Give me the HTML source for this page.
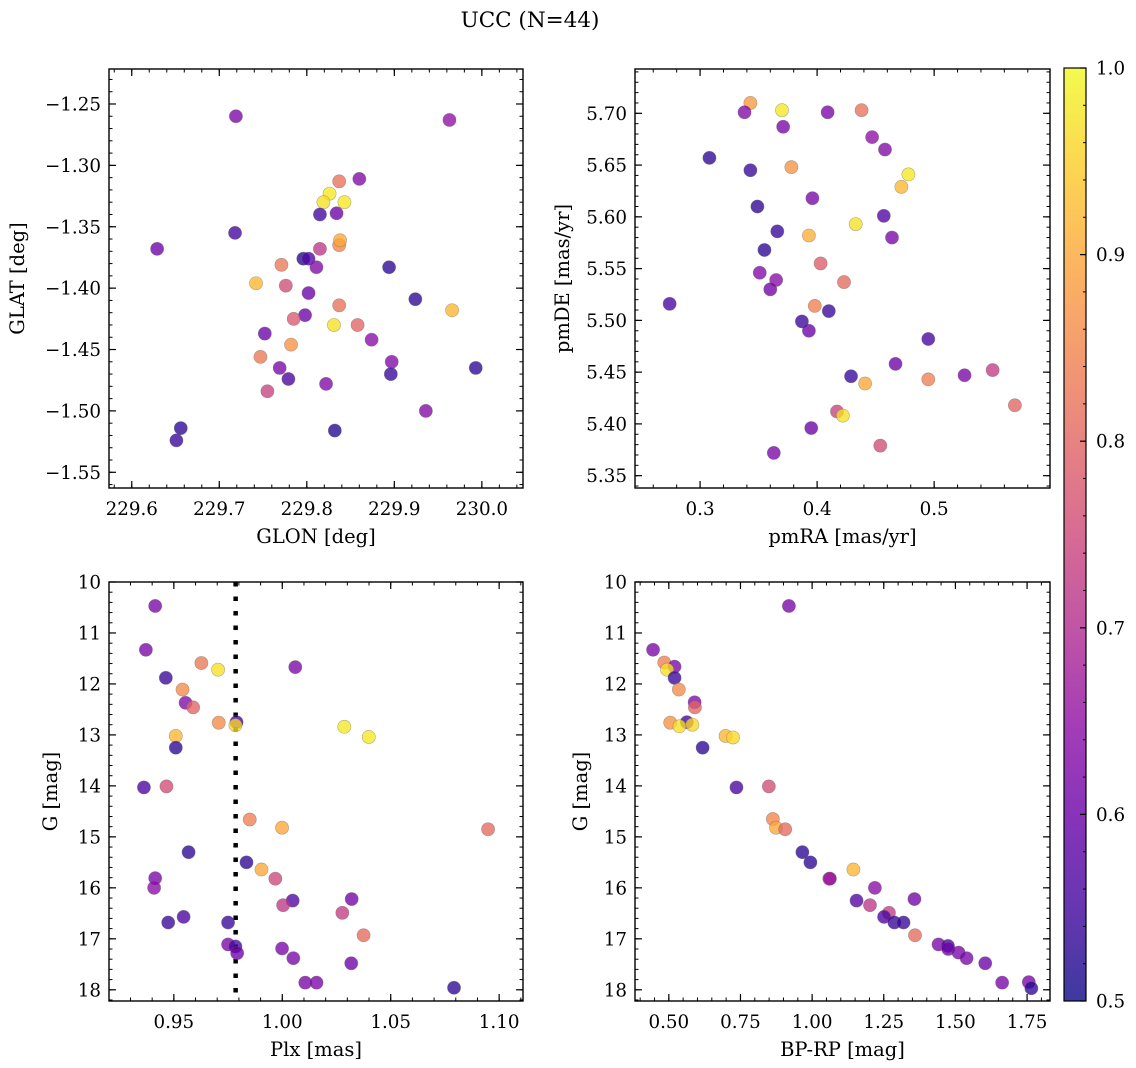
<!DOCTYPE html>
<html><head><meta charset="utf-8">
<style>
html,body{margin:0;padding:0;background:#fff;}
svg{display:block;font-family:"DejaVu Serif","Liberation Serif",serif;}
</style></head>
<body>
<svg id="fig" width="1136" height="1068" viewBox="0 0 1136 1068" xmlns="http://www.w3.org/2000/svg">
<defs>
<linearGradient id="cbgrad" x1="0" y1="1" x2="0" y2="0">
<stop offset="0" stop-color="#0d0887"/><stop offset="0.1" stop-color="#41049d"/><stop offset="0.2" stop-color="#6a00a8"/><stop offset="0.3" stop-color="#8f0da4"/><stop offset="0.4" stop-color="#b12a90"/><stop offset="0.5" stop-color="#cc4778"/><stop offset="0.6" stop-color="#e16462"/><stop offset="0.7" stop-color="#f2844b"/><stop offset="0.8" stop-color="#fca636"/><stop offset="0.9" stop-color="#fcce25"/><stop offset="1" stop-color="#f0f921"/>
</linearGradient>
</defs>
<text x="530" y="27" font-size="21.5" text-anchor="middle">UCC (N=44)</text>
</svg>
<script>
// ---- data: top-left (GLON / GLAT) ----
const glon = [229.719,229.963,229.837,229.860,229.826,229.819,229.843,229.815,229.834,229.718,229.629,229.837,229.838,229.815,229.796,229.802,229.811,229.771,229.894,229.742,229.776,229.802,229.924,229.966,229.837,229.798,229.785,229.831,229.858,229.752,229.874,229.782,229.747,229.897,229.769,229.896,229.993,229.779,229.822,229.755,229.936,229.656,229.651,229.832];
const glat = [-1.260,-1.263,-1.313,-1.311,-1.323,-1.330,-1.330,-1.340,-1.339,-1.355,-1.368,-1.365,-1.361,-1.368,-1.376,-1.376,-1.383,-1.381,-1.383,-1.396,-1.398,-1.404,-1.409,-1.418,-1.414,-1.422,-1.425,-1.430,-1.430,-1.437,-1.442,-1.446,-1.456,-1.460,-1.465,-1.470,-1.465,-1.474,-1.478,-1.484,-1.500,-1.514,-1.524,-1.516];
const probA = [0.62,0.65,0.82,0.63,0.98,0.97,0.98,0.55,0.60,0.55,0.60,0.85,0.90,0.72,0.52,0.57,0.63,0.83,0.53,0.92,0.76,0.60,0.53,0.92,0.82,0.60,0.78,0.97,0.80,0.60,0.64,0.87,0.83,0.63,0.62,0.54,0.53,0.56,0.63,0.74,0.63,0.53,0.54,0.52];
// ---- data: top-right (pmRA / pmDE) ----
const pmra = [0.343,0.338,0.370,0.371,0.409,0.438,0.447,0.458,0.308,0.343,0.378,0.478,0.472,0.396,0.349,0.457,0.433,0.366,0.393,0.464,0.355,0.403,0.351,0.365,0.360,0.423,0.274,0.398,0.410,0.387,0.393,0.495,0.467,0.429,0.441,0.495,0.526,0.550,0.569,0.417,0.422,0.395,0.454,0.363];
const pmde = [5.710,5.701,5.703,5.687,5.701,5.703,5.677,5.665,5.657,5.645,5.648,5.641,5.629,5.618,5.610,5.601,5.593,5.586,5.582,5.580,5.568,5.555,5.546,5.539,5.530,5.537,5.516,5.514,5.509,5.499,5.490,5.482,5.458,5.446,5.439,5.443,5.447,5.452,5.418,5.412,5.408,5.396,5.379,5.372];
const probB = [0.88,0.63,0.98,0.62,0.62,0.82,0.65,0.63,0.53,0.54,0.87,0.98,0.92,0.62,0.53,0.57,0.97,0.54,0.91,0.62,0.53,0.79,0.63,0.64,0.61,0.81,0.56,0.84,0.54,0.54,0.60,0.56,0.60,0.54,0.90,0.84,0.62,0.73,0.80,0.74,0.97,0.60,0.76,0.62];
// ---- data: bottom-left (Plx / G) ----
const plx = [0.9414,0.9371,0.9627,0.9704,1.0060,0.9463,0.9540,0.9554,0.9589,0.9707,0.9789,0.9784,1.0286,1.0399,0.9509,0.9509,0.9362,0.9466,0.9850,0.9999,1.0949,0.9568,0.9835,0.9904,0.9968,0.9414,0.9409,1.0048,1.0320,1.0004,1.0277,0.9545,0.9474,0.9750,1.0375,0.9750,0.9784,0.9792,0.9999,1.0051,1.0318,1.0106,1.0158,1.0792];
const gmagC = [10.47,11.33,11.59,11.72,11.67,11.88,12.11,12.37,12.46,12.76,12.75,12.81,12.84,13.04,13.02,13.25,14.03,14.01,14.66,14.82,14.85,15.30,15.50,15.64,15.82,15.81,16.00,16.25,16.22,16.34,16.49,16.57,16.68,16.68,16.93,17.11,17.15,17.28,17.19,17.38,17.48,17.86,17.86,17.96];
const probC = [0.62,0.62,0.83,0.97,0.62,0.54,0.86,0.63,0.80,0.86,0.55,0.96,0.98,0.98,0.92,0.53,0.56,0.76,0.84,0.90,0.81,0.53,0.53,0.90,0.75,0.62,0.64,0.57,0.61,0.72,0.73,0.56,0.54,0.54,0.81,0.62,0.56,0.60,0.62,0.62,0.60,0.62,0.62,0.53];
const plxLine = [0.9785];
// ---- data: bottom-right (BP-RP / G) ----
const bprp = [0.919,0.445,0.484,0.520,0.494,0.520,0.535,0.590,0.591,0.505,0.563,0.537,0.582,0.698,0.724,0.618,0.736,0.849,0.863,0.874,0.906,0.966,0.994,1.144,1.060,1.062,1.219,1.155,1.357,1.202,1.268,1.251,1.287,1.319,1.359,1.441,1.474,1.475,1.511,1.539,1.604,1.663,1.756,1.765];
const gmagD = [10.47,11.33,11.58,11.66,11.72,11.88,12.11,12.36,12.46,12.76,12.75,12.83,12.80,13.02,13.05,13.25,14.03,14.01,14.65,14.82,14.85,15.30,15.50,15.64,15.82,15.82,16.00,16.25,16.22,16.34,16.49,16.57,16.68,16.68,16.93,17.11,17.14,17.20,17.27,17.38,17.48,17.86,17.85,17.97];
const probD = [0.62,0.62,0.84,0.62,0.97,0.54,0.86,0.63,0.80,0.87,0.55,0.97,0.96,0.92,0.96,0.53,0.56,0.76,0.85,0.90,0.81,0.53,0.53,0.92,0.75,0.65,0.64,0.57,0.61,0.72,0.73,0.56,0.54,0.54,0.81,0.62,0.56,0.60,0.62,0.62,0.60,0.62,0.62,0.53];
// ---- tick labels ----
const ticksGlon = [229.6,229.7,229.8,229.9,230.0];
const ticksGlat = [-1.25,-1.30,-1.35,-1.40,-1.45,-1.50,-1.55];
const ticksPmra = [0.3,0.4,0.5];
const ticksPmde = [5.70,5.65,5.60,5.55,5.50,5.45,5.40,5.35];
const ticksPlx = [0.95,1.00,1.05,1.10];
const ticksG = [10,11,12,13,14,15,16,17,18];
const ticksBprp = [0.50,0.75,1.00,1.25,1.50,1.75];
const ticksCb = [0.5,0.6,0.7,0.8,0.9,1.0];

const NS="http://www.w3.org/2000/svg";
const svg=document.getElementById('fig');
const stops=[[13,8,135],[65,4,157],[106,0,168],[143,13,164],[177,42,144],[204,71,120],[225,100,98],[242,132,75],[252,166,54],[252,206,37],[240,249,33]];
function plasma(p){let t=Math.max(0,Math.min(1,(p-0.5)/0.5))*10;let i=Math.min(9,Math.floor(t));let f=t-i;const a=stops[i],b=stops[i+1];
 return 'rgb('+a.map((v,k)=>Math.round(v+(b[k]-v)*f)).join(',')+')';}
function mk(tag,attrs,parent){const e=document.createElementNS(NS,tag);for(const k in attrs)e.setAttribute(k,attrs[k]);(parent||svg).appendChild(e);return e;}
const FS=18.3, LFS=19.5;
function panel(o){
 const g=mk('g',{});
 
 
 const sx=v=>o.x0+(v-o.xmin)/(o.xmax-o.xmin)*(o.x1-o.x0);
 const sy=v=>o.inv? o.y0+(v-o.ymin)/(o.ymax-o.ymin)*(o.y1-o.y0) : o.y1-(v-o.ymin)/(o.ymax-o.ymin)*(o.y1-o.y0);
 const eps=1e-9;
 for(let v=Math.ceil(o.xmin/o.xminor-eps)*o.xminor; v<=o.xmax+eps; v+=o.xminor){const X=sx(v);
  mk('line',{x1:X,x2:X,y1:o.y1,y2:o.y1-3.5,stroke:'#000','stroke-width':1},g);
  mk('line',{x1:X,x2:X,y1:o.y0,y2:o.y0+3.5,stroke:'#000','stroke-width':1},g);}
 for(let v=Math.ceil(o.ymin/o.yminor-eps)*o.yminor; v<=o.ymax+eps; v+=o.yminor){const Y=sy(v);
  mk('line',{x1:o.x0,x2:o.x0+3.5,y1:Y,y2:Y,stroke:'#000','stroke-width':1},g);
  mk('line',{x1:o.x1,x2:o.x1-3.5,y1:Y,y2:Y,stroke:'#000','stroke-width':1},g);}
 o.xt.forEach(v=>{const X=sx(v);
  mk('line',{x1:X,x2:X,y1:o.y1,y2:o.y1-7,stroke:'#000','stroke-width':1.2},g);
  mk('line',{x1:X,x2:X,y1:o.y0,y2:o.y0+7,stroke:'#000','stroke-width':1.2},g);
  const t=mk('text',{x:X,y:o.y1+27,'font-size':FS,'text-anchor':'middle'},g);t.textContent=v.toFixed(o.xdec);
  
  });
 o.yt.forEach(v=>{const Y=sy(v);
  mk('line',{x1:o.x0,x2:o.x0+7,y1:Y,y2:Y,stroke:'#000','stroke-width':1.2},g);
  mk('line',{x1:o.x1,x2:o.x1-7,y1:Y,y2:Y,stroke:'#000','stroke-width':1.2},g);
  const t=mk('text',{x:o.x0-8,y:Y+6.5,'font-size':FS,'text-anchor':'end'},g);t.textContent=o.ydec<0?String(v):v.toFixed(o.ydec).replace('-','\u2212');
  
  });
 if(o.vline){o.vline.forEach(v=>{const l=mk('line',{x1:sx(v),x2:sx(v),y1:o.y0,y2:o.y1,stroke:'#000','stroke-width':4.5,'stroke-dasharray':'4.5 10'},g);
  
  });}
 o.xs.forEach((xv,i)=>{const c=mk('circle',{cx:sx(xv),cy:sy(o.ys[i]),r:6.6,fill:plasma(o.ps[i]),'fill-opacity':0.78,stroke:'#666','stroke-opacity':0.5,'stroke-width':0.6},g);
  
  });
 mk('rect',{x:o.x0,y:o.y0,width:o.x1-o.x0,height:o.y1-o.y0,fill:'none',stroke:'#000','stroke-width':1.4},g);
 const xl=mk('text',{x:(o.x0+o.x1)/2,y:o.y1+55,'font-size':LFS,'text-anchor':'middle'},g);xl.textContent=o.xlab;
 
 
 const yx=o.ylx, yc=(o.y0+o.y1)/2;
 const yl=mk('text',{x:yx,y:yc,'font-size':LFS,'text-anchor':'middle',transform:'rotate(-90 '+yx+' '+yc+')'},g);yl.textContent=o.ylab;
 
 
}
panel({name:'glon-glat-panel',x0:109,x1:523,y0:69,y1:488,xmin:229.574,xmax:230.047,ymin:-1.5628,ymax:-1.2215,xminor:0.02,yminor:0.01,xt:ticksGlon,yt:ticksGlat,xdec:1,ydec:2,xs:glon,ys:glat,ps:probA,xlab:'GLON [deg]',ylab:'GLAT [deg]',ylx:24});
panel({name:'pm-panel',x0:635,x1:1050,y0:69,y1:488,xmin:0.2444,xmax:0.599,ymin:5.3381,ymax:5.7428,xminor:0.02,yminor:0.01,xt:ticksPmra,yt:ticksPmde,xdec:1,ydec:2,xs:pmra,ys:pmde,ps:probB,xlab:'pmRA [mas/yr]',ylab:'pmDE [mas/yr]',ylx:569});
panel({name:'plx-g-panel',x0:109,x1:523,y0:582,y1:1001,xmin:0.9201,xmax:1.111,ymin:10,ymax:18.22,inv:true,xminor:0.01,yminor:0.2,xt:ticksPlx,yt:ticksG,xdec:2,ydec:-1,xs:plx,ys:gmagC,ps:probC,xlab:'Plx [mas]',ylab:'G [mag]',ylx:57,vline:plxLine});
panel({name:'cmd-panel',x0:635,x1:1050,y0:582,y1:1001,xmin:0.382,xmax:1.83,ymin:10,ymax:18.22,inv:true,xminor:0.05,yminor:0.2,xt:ticksBprp,yt:ticksG,xdec:2,ydec:-1,xs:bprp,ys:gmagD,ps:probD,xlab:'BP-RP [mag]',ylab:'G [mag]',ylx:587});
// colorbar
const cb=mk('g',{});


const cx0=1064,cx1=1086,cy0=68,cy1=1001;
const cy=v=>cy1-(v-0.5)/0.5*(cy1-cy0);
mk('rect',{x:cx0,y:cy0,width:cx1-cx0,height:cy1-cy0,fill:'url(#cbgrad)','fill-opacity':0.8},cb);
mk('rect',{x:cx0,y:cy0,width:cx1-cx0,height:cy1-cy0,fill:'none',stroke:'#000','stroke-width':1.2},cb);
for(let v=0.52;v<0.999;v+=0.02){mk('line',{x1:cx1-3,x2:cx1,y1:cy(v),y2:cy(v),stroke:'#000','stroke-width':1},cb);}
ticksCb.forEach(v=>{mk('line',{x1:cx1-6,x2:cx1,y1:cy(v),y2:cy(v),stroke:'#000','stroke-width':1.2},cb);
 const t=mk('text',{x:cx1+10,y:cy(v)+6.5,'font-size':FS},cb);t.textContent=v.toFixed(1);
 
 });
</script>
</body></html>
